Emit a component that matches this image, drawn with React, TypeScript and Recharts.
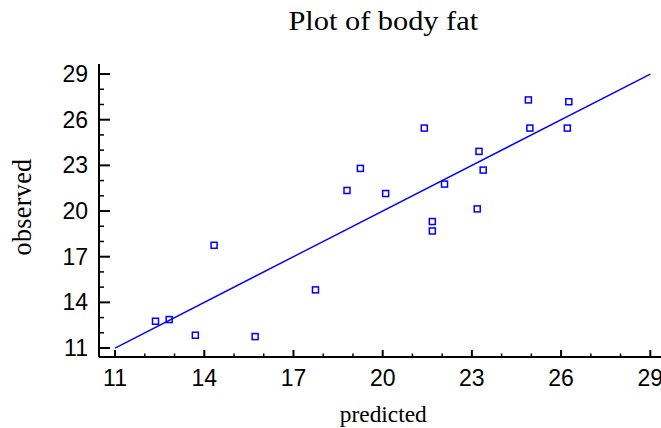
import React from 'react';
import { ScatterChart, Scatter, XAxis, YAxis, ReferenceLine } from 'recharts';

// Data
const predicted = [24.9, 26.26, 21.4, 24.95, 26.21, 23.24, 19.25, 23.38, 18.8, 20.1, 22.08, 23.18, 21.67, 21.67, 14.33, 12.36, 12.82, 13.7, 15.71, 17.74];
const observed = [27.3, 27.18, 25.45, 25.45, 25.45, 23.92, 22.8, 22.69, 21.35, 21.15, 21.77, 20.14, 19.31, 18.69, 17.75, 12.76, 12.87, 11.84, 11.75, 14.82];

// Fitted line (observed = predicted)
const fitX = [11, 29];
const fitY = [11, 29];

// Ticks
const allTicks = [11, 12, 13, 14, 15, 16, 17, 18, 19, 20, 21, 22, 23, 24, 25, 26, 27, 28, 29];
const majorTicks = [11, 14, 17, 20, 23, 26, 29];

const points = predicted.map((p, i) => ({ x: p, y: observed[i] }));

const W = 661;
const H = 428;
const SANS = "'Liberation Sans', Arial, sans-serif";
const SERIF = "'Liberation Serif', 'Times New Roman', serif";
const BLUE = '#0000ff';
const TICK_FS = 23;

const isMajor = (v: number) => majorTicks.includes(v);

function BottomTick(props: any) {
  const { x, y, payload } = props;
  const m = isMajor(payload.value);
  return (
    <g>
      <line x1={x} x2={x} y1={y} y2={y - (m ? 7 : 3.5)} stroke="#000" strokeWidth={m ? 2 : 1.5} />
      {m && (
        <text x={x} y={y + 29} textAnchor="middle" fontSize={TICK_FS} fontFamily={SANS} fill="#000">
          {payload.value}
        </text>
      )}
    </g>
  );
}

function TopTick(props: any) {
  const { x, y, payload } = props;
  const m = isMajor(payload.value);
  return <line x1={x} x2={x} y1={y} y2={y + (m ? 7 : 4)} stroke="#000" strokeWidth={m ? 2 : 1.5} />;
}

function LeftTick(props: any) {
  const { x, y, payload } = props;
  const m = isMajor(payload.value);
  return (
    <g>
      <line x1={x} x2={x + (m ? 11 : 5)} y1={y} y2={y} stroke="#000" strokeWidth={m ? 2 : 1.5} />
      {m && (
        <text x={x - 11} y={y + 8} textAnchor="end" fontSize={TICK_FS} fontFamily={SANS} fill="#000">
          {payload.value}
        </text>
      )}
    </g>
  );
}

function RightTick(props: any) {
  const { x, y, payload } = props;
  const m = isMajor(payload.value);
  return <line x1={x} x2={x - (m ? 7 : 2.5)} y1={y} y2={y} stroke="#000" strokeWidth={m ? 2 : 1.5} />;
}

const Square = (props: any) => {
  const { cx, cy } = props;
  if (cx == null || cy == null) return null;
  return <rect x={cx - 3} y={cy - 3} width={6} height={6} fill="none" stroke={BLUE} strokeWidth={1.5} />;
};

export default function App() {
  return (
    <div style={{ position: 'absolute', left: 0, top: 0, width: W, height: H, background: '#fff' }}>
      <ScatterChart width={W} height={H} margin={{ top: 64, right: 0, bottom: 0, left: 0 }}>
        <XAxis
          xAxisId="b"
          dataKey="x"
          type="number"
          domain={[10.46, 29.36]}
          ticks={allTicks}
          interval={0}
          allowDataOverflow
          height={71}
          tickSize={0}
          tickMargin={0}
          tickLine={false}
          axisLine={{ stroke: '#000', strokeWidth: 2 }}
          tick={<BottomTick />}
        />
        <XAxis
          xAxisId="t"
          orientation="top"
          dataKey="x"
          type="number"
          domain={[10.46, 29.36]}
          ticks={allTicks}
          interval={0}
          allowDataOverflow
          height={0}
          tickSize={0}
          tickMargin={0}
          tickLine={false}
          axisLine={{ stroke: '#000', strokeWidth: 2 }}
          tick={<TopTick />}
        />
        <YAxis
          yAxisId="l"
          dataKey="y"
          type="number"
          domain={[10.41, 29.66]}
          ticks={allTicks}
          interval={0}
          allowDataOverflow
          width={99}
          tickSize={0}
          tickMargin={0}
          tickLine={false}
          axisLine={{ stroke: '#000', strokeWidth: 2 }}
          tick={<LeftTick />}
        />
        <YAxis
          yAxisId="r"
          orientation="right"
          dataKey="y"
          type="number"
          domain={[10.41, 29.66]}
          ticks={allTicks}
          interval={0}
          allowDataOverflow
          width={0}
          tickSize={0}
          tickMargin={0}
          tickLine={false}
          axisLine={{ stroke: '#000', strokeWidth: 2 }}
          tick={<RightTick />}
        />
        <ReferenceLine
          xAxisId="b"
          yAxisId="l"
          segment={[{ x: fitX[0], y: fitY[0] }, { x: fitX[1], y: fitY[1] }]}
          stroke={BLUE}
          strokeWidth={1.4}
          ifOverflow="extendDomain"
        />
        <Scatter xAxisId="b" yAxisId="l" data={points} shape={<Square />} isAnimationActive={false} />
      </ScatterChart>
      <svg width={W} height={H} style={{ position: 'absolute', left: 0, top: 0, pointerEvents: 'none' }}>
        <text transform="translate(383.3,30) scale(1.1,1)" x={0} y={0} textAnchor="middle" fontSize={27.6} fontFamily={SERIF} fill="#000">
          Plot of body fat
        </text>
        <text x={383.3} y={422} textAnchor="middle" fontSize={23.4} fontFamily={SERIF} fill="#000">
          predicted
        </text>
        <text transform="translate(31,207) rotate(-90) scale(1,1.08)" x={0} y={0} textAnchor="middle" fontSize={26} letterSpacing={0.4} fontFamily={SERIF} fill="#000">
          observed
        </text>
      </svg>
    </div>
  );
}
